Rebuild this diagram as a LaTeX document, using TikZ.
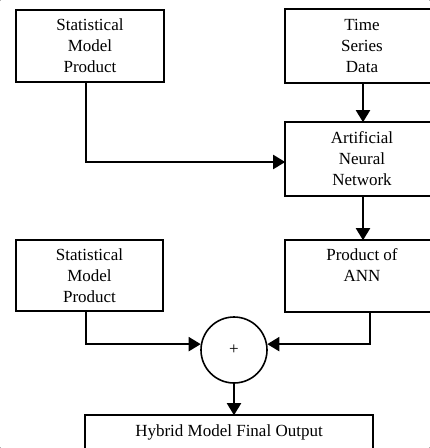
\documentclass[tikz,border=0pt]{standalone}
\usepackage{fontspec}
\setmainfont{Liberation Serif}
\usetikzlibrary{arrows.meta}

\tikzset{
  block/.style={draw, line width=1.6pt, align=center, inner sep=0pt,
    font=\fontsize{17}{21}\selectfont},
  openblock/.style={block, draw=none},
  frame/.style={line width=1.6pt},
  speck/.style={fill=black!30},
  sumnode/.style={circle, draw, line width=1.6pt, minimum size=66pt, inner sep=0pt,
    font=\fontsize{17}{21}\selectfont},
  flow/.style={line width=2pt, -{Triangle[length=12pt,width=14pt]}},
}

\begin{document}
\begin{tikzpicture}[x=1pt, y=1pt]
                    \fill[white, use as bounding box] (0,0) rectangle (430,-448);
                    \coordinate (edge) at (430,0);
                    \coordinate (floor) at (0,-448);
                    % page corners
                    \path[speck] (0,0) rectangle (1,-1);
                    \path[speck] (429,0) rectangle (430,-1);
                    \path[speck] (0,-447) rectangle (1,-448);
                    \path[speck] (429,-447) rectangle (430,-448);
                    % Nodes
                    \node[block, minimum width=148pt, minimum height=72pt] (smp1) at (90,-46) {Statistical\\Model\\Product};
                    \node[openblock, minimum width=152pt, minimum height=72pt] (tsd) at (362,-46) {Time\\Series\\Data};
                    \node[openblock, minimum width=152pt, minimum height=72pt] (ann) at (362,-159) {Artificial\\Neural\\Network};
                    \node[block, minimum width=147pt, minimum height=71pt] (smp2) at (89.5,-275.5) {Statistical\\Model\\Product};
                    \node[openblock, minimum width=152pt, minimum height=70pt] (pann) at (362,-276) {Product of\\ANN\\~};
                    \node[sumnode] (plus) at (234,-350) {+};
                    \node[openblock, minimum width=286pt, minimum height=72pt] (out) at (229,-452) {Hybrid Model Final Output\\~\\~};
                    % Frames cut by the page edge
                    \draw[frame] (tsd.north -| edge) -- (tsd.north west) -- (tsd.south west) -- (tsd.south -| edge);
                    \draw[frame] (ann.north -| edge) -- (ann.north west) -- (ann.south west) -- (ann.south -| edge);
                    \draw[frame] (pann.north -| edge) -- (pann.north west) -- (pann.south west) -- (pann.south -| edge);
                    \draw[frame] (out.west |- floor) -- (out.north west) -- (out.north east) -- (out.east |- floor);
                    % Edges
                    \draw[flow] ([xshift=-4pt]smp1.south) |- ([yshift=-3pt]ann.west);
                    \draw[flow] ([xshift=1pt]tsd.south) -- ([xshift=1pt]ann.north);
                    \draw[flow] ([xshift=1pt]ann.south) -- ([xshift=1pt]pann.north);
                    \draw[flow] ([xshift=-3.5pt]smp2.south) |- (plus.170);
                    \draw[flow] ([xshift=8pt]pann.south) |- (plus.10);
                    \draw[flow] (plus.south) -- (plus.south |- out.north);
                \end{tikzpicture}
\end{document}
